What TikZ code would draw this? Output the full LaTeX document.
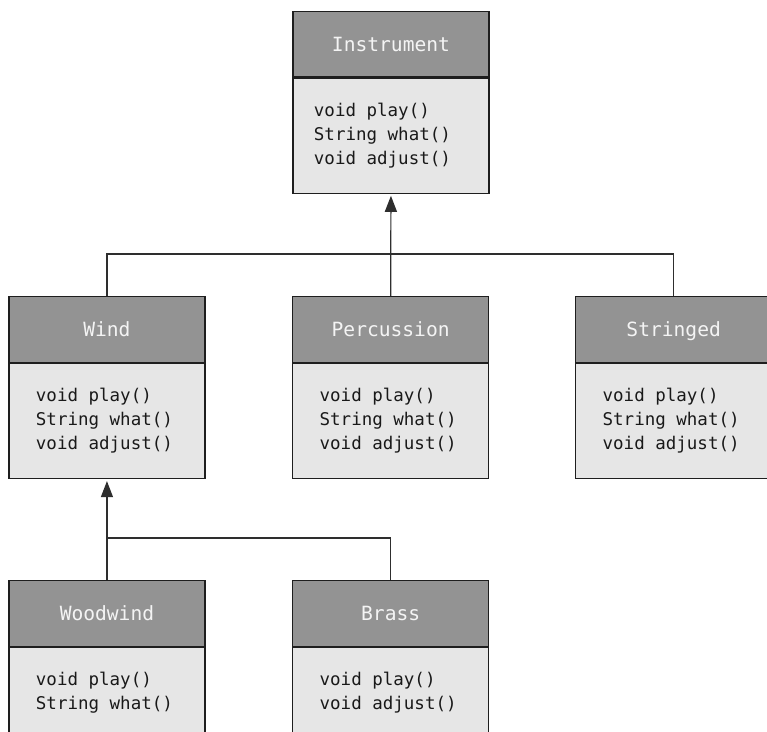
\documentclass[tikz,border=0pt]{standalone}
\usepackage{fontspec}
\usetikzlibrary{arrows.meta}
\newfontfamily\codefont{DejaVu Sans Mono}
\definecolor{hdrfill}{HTML}{939393}
\definecolor{bodyfill}{HTML}{E6E6E6}
\definecolor{boxline}{HTML}{1E1E1E}
\definecolor{linkline}{HTML}{2E2E2E}
\definecolor{hdrtext}{HTML}{F4F4F4}
% one member line; \msp is a full monospaced blank
\newcommand\mline[1]{\strut #1}
\newcommand\msp{\hspace*{0.602em}}
\tikzset{
  x=1pt, y=-1pt,
  classhead/.style={draw=boxline, line width=1.3pt, fill=hdrfill, text=hdrtext,
    anchor=north west, minimum width=196pt, minimum height=65.5pt, inner sep=0pt,
    text height=14.3pt, text depth=0pt,
    font=\codefont\fontsize{19.6}{24}\selectfont},
  classbody/.style={draw=boxline, line width=1.3pt, fill=bodyfill, text=black!90,
    anchor=north west, minimum height=115pt, align=left,
    inner xsep=#1, inner ysep=0pt, text width=196pt-2*#1,
    font=\codefont\fontsize{17.5}{24}\selectfont},
  classbody/.default=27pt,
  link/.style={draw=linkline, line width=1.2pt},
  inherit/.style={link, -{Triangle[length=16pt,width=12pt]}, shorten >=2pt},
}
\begin{document}
\begin{tikzpicture}
\useasboundingbox (0,0) rectangle (767,731);
\fill[white] (0,0) rectangle (767,731);
\clip (0,0) rectangle (767,731);

% base class
\node[classhead] (instH) at (292.3,10.7) {Instrument};
\node[classbody=21pt] (instB) at (instH.south west)
  {\mline{void\msp play()}\\\mline{String\msp what()}\\\mline{void\msp adjust()}};

% first level subclasses
\node[classhead] (windH) at (8.3,296) {Wind};
\node[classbody] (windB) at (windH.south west)
  {\mline{void\msp play()}\\\mline{String\msp what()}\\\mline{void\msp adjust()}};

\node[classhead] (percH) at (292,296) {Percussion};
\node[classbody] (percB) at (percH.south west)
  {\mline{void\msp play()}\\\mline{String\msp what()}\\\mline{void\msp adjust()}};

\node[classhead] (strH) at (575,296) {Stringed};
\node[classbody] (strB) at (strH.south west)
  {\mline{void\msp play()}\\\mline{String\msp what()}\\\mline{void\msp adjust()}};

% second level subclasses
\node[classhead] (woodH) at (8.3,580) {Woodwind};
\node[classbody] (woodB) at (woodH.south west)
  {\mline{void\msp play()}\\\mline{String\msp what()}\\\mline{}};

\node[classhead] (brassH) at (292,580) {Brass};
\node[classbody] (brassB) at (brassH.south west)
  {\mline{void\msp play()}\\\mline{void\msp adjust()}\\\mline{}};

% inheritance links
\coordinate (j1) at (percH.north |- 0,254);
\draw[link] (windH.north) |- (j1) -| (strH.north);
\draw[inherit] (percH.north) -- (instB.south);

\coordinate (j2) at (woodH.north |- 0,538);
\draw[link] (j2) -| (brassH.north);
\draw[inherit] (woodH.north) -- (windB.south);
\end{tikzpicture}
\end{document}
